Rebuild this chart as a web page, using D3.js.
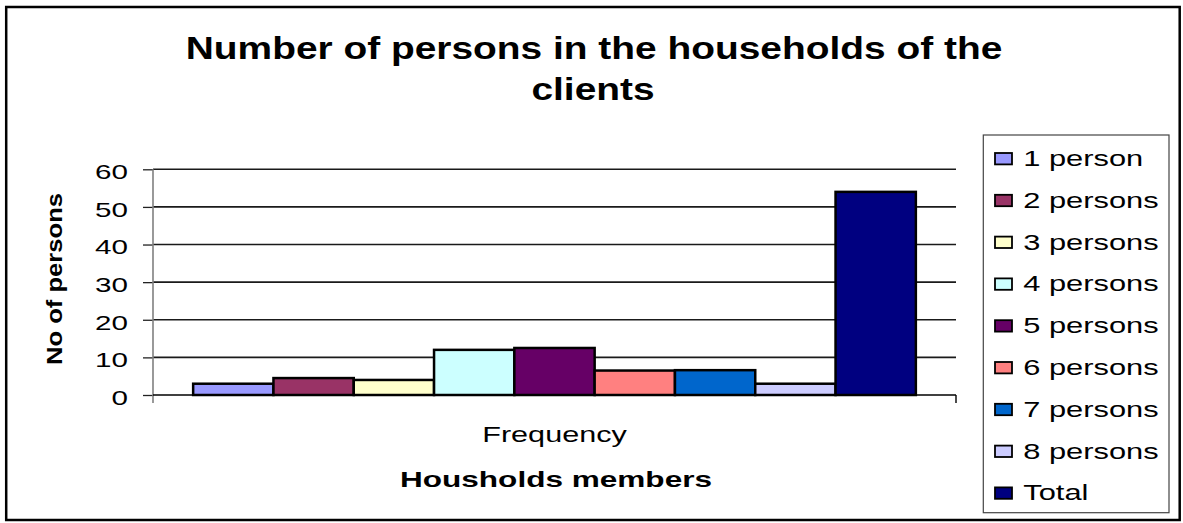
<!DOCTYPE html>
<html>
<head>
<meta charset="utf-8">
<script src="https://cdn.jsdelivr.net/npm/d3@7"></script>
<style>
  html, body { margin: 0; padding: 0; background: #fff; }
  svg { display: block; font-family: "Liberation Sans", Arial, sans-serif; }
</style>
</head>
<body>
<svg id="chart" width="1183" height="523"></svg>
<script>
// Household sizes of the clients (one category, one bar per series)
const categories = ["Frequency"];
const seriesNames = ["1 person", "2 persons", "3 persons", "4 persons", "5 persons",
                     "6 persons", "7 persons", "8 persons", "Total"];
const seriesValues = [3, 4.5, 4, 12, 12.5, 6.5, 6.6, 3, 54];
const seriesColors = ["#9999FF", "#993366", "#FFFFCC", "#CCFFFF", "#660066",
                      "#FF8080", "#0066CC", "#CCCCFF", "#000080"];
const yTicks = [0, 10, 20, 30, 40, 50, 60];

const svg = d3.select("#chart");

// Text helper: draws text then widens it horizontally by a factor
function wideText(sel, sx) {
  sel.each(function () {
    const w = this.getComputedTextLength();
    d3.select(this).attr("textLength", w * sx).attr("lengthAdjust", "spacingAndGlyphs");
  });
  return sel;
}

// Outer frame
svg.append("rect")
  .attr("x", 6.2).attr("y", 7).attr("width", 1173.5).attr("height", 513)
  .attr("fill", "#fff").attr("stroke", "#000").attr("stroke-width", 2.5);

// Title
const title = svg.append("text")
  .attr("text-anchor", "middle").attr("font-weight", "bold").attr("font-size", 32);
title.append("tspan").attr("x", 594).attr("y", 59).text("Number of persons in the households of the");
title.append("tspan").attr("x", 593).attr("y", 100).text("clients");
wideText(title.selectAll("tspan"), 1.215);

// Plot area
const plot = { left: 153, right: 956, top: 169.3, bottom: 395 };

const y = d3.scaleLinear().domain([0, 60]).range([plot.bottom, plot.top]);
const x0 = d3.scaleBand().domain(categories).range([plot.left, plot.right])
  .paddingInner(0).paddingOuter(1 / 18);
const x1 = d3.scaleBand().domain(seriesNames).range([0, x0.bandwidth()]).padding(0);

// Gridlines
svg.append("g")
  .selectAll("line")
  .data(yTicks.filter(d => d > 0))
  .join("line")
  .attr("x1", plot.left).attr("x2", plot.right)
  .attr("y1", d => y(d)).attr("y2", d => y(d))
  .attr("stroke", "#1a1a1a").attr("stroke-width", 1.6);

// Bars
svg.append("g")
  .selectAll("rect")
  .data(seriesNames.map((s, i) => ({ s, v: seriesValues[i], c: seriesColors[i] })))
  .join("rect")
  .attr("x", d => x0("Frequency") + x1(d.s))
  .attr("width", x1.bandwidth())
  .attr("y", d => y(d.v))
  .attr("height", d => y(0) - y(d.v))
  .attr("fill", d => d.c)
  .attr("stroke", "#000").attr("stroke-width", 2.5);

// Y axis
const yAxis = d3.axisLeft(y).tickValues(yTicks).tickSize(10).tickPadding(15);
const yg = svg.append("g").attr("transform", `translate(${plot.left},0)`).call(yAxis);
yg.select(".domain").remove();
yg.selectAll(".tick line").attr("stroke", "#222").attr("stroke-width", 1.3);
yg.selectAll(".tick text")
  .attr("font-family", "Liberation Sans, Arial, sans-serif")
  .attr("font-size", 21).attr("fill", "#000").attr("dy", "0.45em");
wideText(yg.selectAll(".tick text"), 1.41);
svg.append("line")
  .attr("x1", plot.left).attr("x2", plot.left)
  .attr("y1", plot.top).attr("y2", plot.bottom + 8)
  .attr("stroke", "#808080").attr("stroke-width", 1.6);

// X axis
svg.append("line")
  .attr("x1", plot.left).attr("x2", plot.right)
  .attr("y1", plot.bottom).attr("y2", plot.bottom)
  .attr("stroke", "#000").attr("stroke-width", 1.6);
svg.append("line")
  .attr("x1", plot.right).attr("x2", plot.right)
  .attr("y1", plot.bottom).attr("y2", plot.bottom + 8)
  .attr("stroke", "#000").attr("stroke-width", 1.4);

const catLabel = svg.append("text")
  .attr("x", x0("Frequency") + x0.bandwidth() / 2).attr("y", 441.7)
  .attr("text-anchor", "middle").attr("font-size", 22).text(categories[0]);
wideText(catLabel, 1.39);

// Axis titles
const xTitle = svg.append("text")
  .attr("x", 556).attr("y", 487.3)
  .attr("text-anchor", "middle").attr("font-size", 22).attr("font-weight", "bold")
  .text("Housholds members");
xTitle.attr("textLength", 312).attr("lengthAdjust", "spacingAndGlyphs");

const yTitle = svg.append("text")
  .attr("transform", "translate(62.3,279) rotate(-90)")
  .attr("text-anchor", "middle").attr("font-size", 22).attr("font-weight", "bold")
  .text("No of persons");
yTitle.attr("textLength", 172).attr("lengthAdjust", "spacingAndGlyphs");

// Legend
const legend = svg.append("g");
legend.append("rect")
  .attr("x", 983.3).attr("y", 135).attr("width", 185.7).attr("height", 377.7)
  .attr("fill", "#fff").attr("stroke", "#444").attr("stroke-width", 1.2);
const entry = legend.selectAll("g.entry")
  .data(seriesNames.map((s, i) => ({ s, c: seriesColors[i] })))
  .join("g").attr("class", "entry")
  .attr("transform", (d, i) => `translate(0,${158.7 + i * 41.8})`);
entry.append("rect")
  .attr("x", 995).attr("y", -5.7).attr("width", 17).attr("height", 11.4)
  .attr("fill", d => d.c).attr("stroke", "#000").attr("stroke-width", 1.8);
const legText = entry.append("text")
  .attr("x", 1023.3).attr("y", 7.3).attr("font-size", 22).text(d => d.s);
wideText(legText, 1.4);
</script>
</body>
</html>
